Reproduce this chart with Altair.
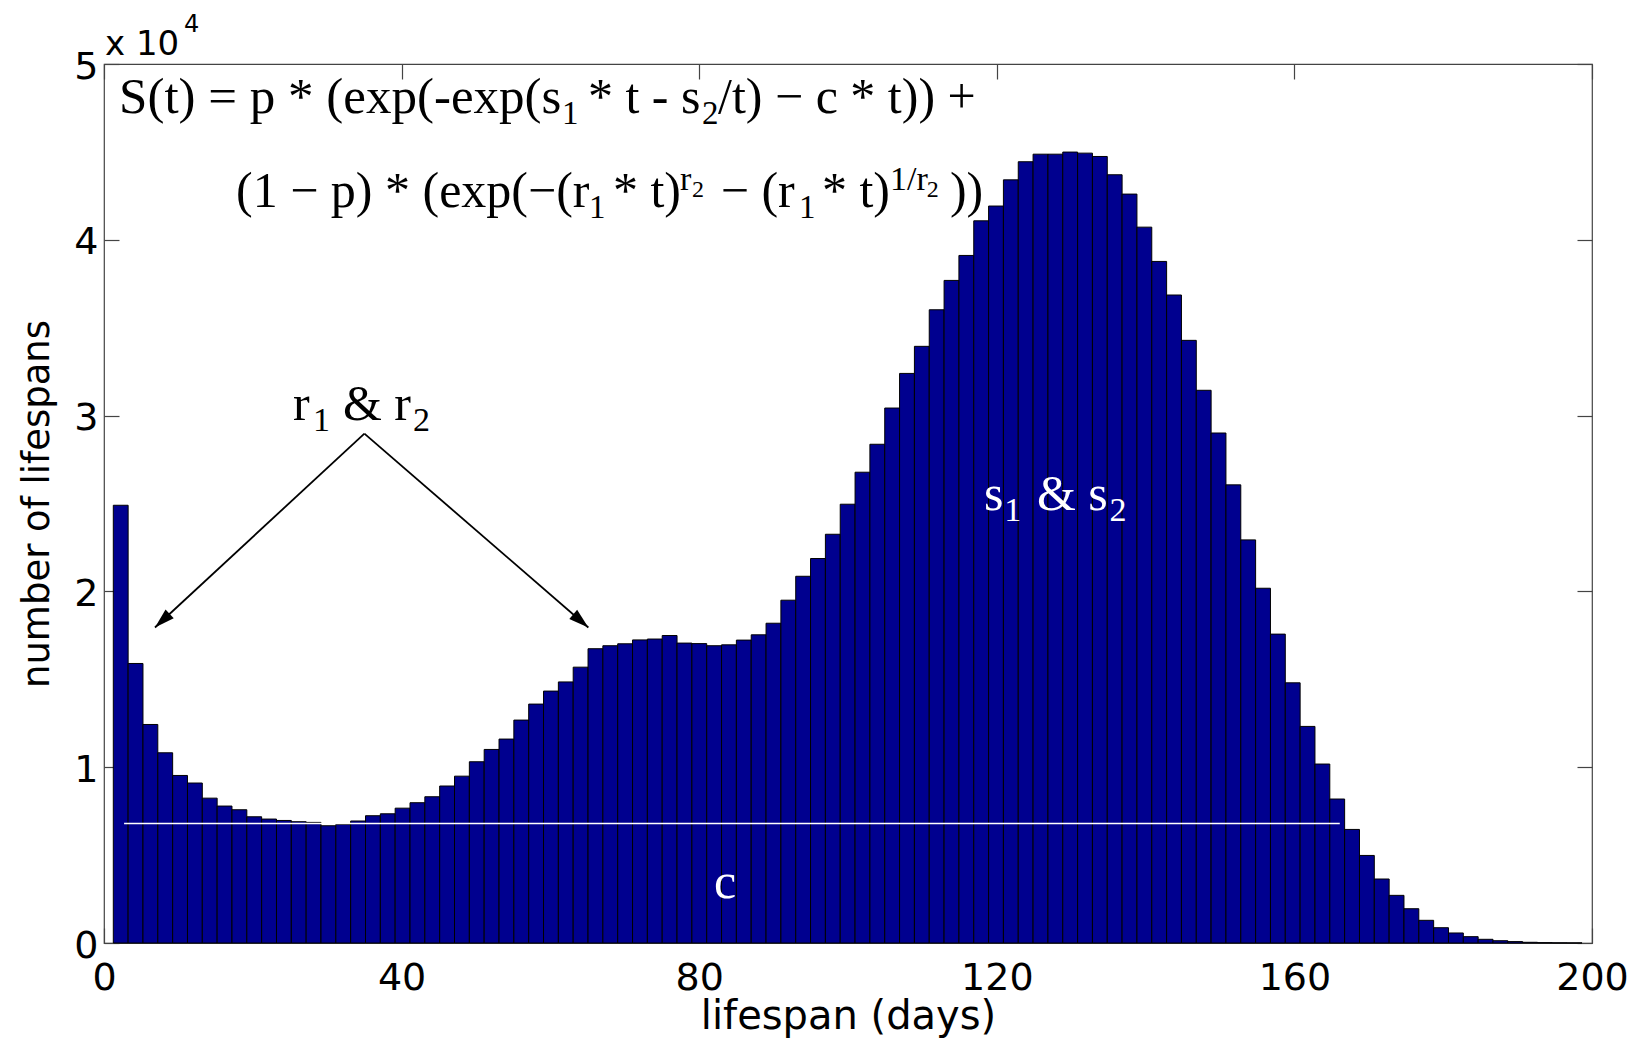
import altair as alt
import pandas as pd

# ---- histogram of lifespans (equal-width bins) ----
bin_start = 1.25   # left edge of the first bin, days
bin_width = 1.994  # bin width, days
counts = [
    24900, 15900, 12430, 10820, 9530, 9100, 8240, 7790, 7580, 7180,
    7050, 6970, 6900, 6860, 6670, 6750, 6940, 7240, 7350, 7670,
    7980, 8320, 8930, 9490, 10310, 11010, 11600, 12680, 13590, 14330,
    14850, 15690, 16740, 16910, 17020, 17240, 17290, 17490, 17060, 17030,
    16910, 16960, 17230, 17530, 18190, 19500, 20860, 21870, 23250, 24960,
    26780, 28370, 30430, 32400, 33940, 36020, 37690, 39110, 41080, 41920,
    43410, 44440, 44870, 44870, 44990, 44930, 44740, 43700, 42600, 40720,
    38770, 36860, 34280, 31440, 29010, 26060, 22930, 20180, 17570, 14800,
    12320, 10180, 8190, 6460, 4980, 3640, 2710, 1950, 1290, 870,
    570, 360, 210, 130, 80, 40, 20, 10, 5,
]

x_ticks = [0, 40, 80, 120, 160, 200]
y_ticks = [0, 10000, 20000, 30000, 40000, 50000]

# background mortality level c (horizontal white line)
c_level = [6800]
c_from = [2.7]
c_to = [166.1]

# arrows from the "r1 & r2" label to the two early modes
arrow_x0 = [35.0, 35.0]
arrow_y0 = [28977, 28977]
arrow_x1 = [6.85, 65.1]
arrow_y1 = [17948, 17948]
arrow_angle = [227.2, 130.9]

# serif annotation pieces: formula (with sub/superscripts) and labels
serif_text = [
    "S(t) = p * (exp(-exp(s", "1", "* t - s", "2", "/t) \u2212 c * t)) +",
    "(1 \u2212 p) * (exp(\u2212(r", "1", "* t)", "r", "2",
    "\u2212 (r", "1", "* t)", "1/r", "2", "))",
    "r", "1", "& r", "2",
    "s", "1", "& s", "2",
    "c",
]
serif_x = [
    2.02, 61.56, 65.05, 80.38, 82.53,
    17.74, 65.19, 68.41, 77.42, 79.03,
    82.9, 93.41, 96.5, 105.65, 110.6, 113.7,
    25.4, 28.1, 32.12, 41.53,
    118.28, 121.0, 125.4, 135.15,
    81.99,
]
serif_y = [
    47186, 46561, 47186, 46561, 47186,
    41842, 41217, 41842, 42808, 42410,
    41842, 41217, 41842, 42808, 42410, 41842,
    29733, 29107, 29733, 29107,
    24616, 23991, 24616, 23991,
    2558,
]
serif_size = [
    51, 33, 50, 33, 50,
    50, 33, 50, 34, 24,
    50, 33, 50, 34, 24, 50,
    50, 34, 50, 34,
    50, 34, 50, 34,
    50,
]
serif_color = ["black"] * 20 + ["white"] * 5

# axis multiplier "x 10^4"
mult_text = ["x 10", "4"]
mult_x = [0.13, 10.75]
mult_y = [50540, 51847]
mult_size = [34, 24]

W, H = 1488, 879
lo = [bin_start + bin_width * i for i in range(len(counts))]
hist = pd.DataFrame({"lo": lo, "hi": [v + bin_width for v in lo], "count": counts})

xs = alt.Scale(domain=[0, 200], nice=False, zero=False)
ys = alt.Scale(domain=[0, 50000], nice=False)
AX = "#444444"


def tick_axis(orient, offset, values):
    # label-free axis used only to draw inward-pointing ticks on a box edge
    return alt.Axis(orient=orient, offset=offset, values=values, tickSize=15,
                    tickColor=AX, tickWidth=1.2, labels=False, domain=False,
                    grid=False, title=None)


bars = alt.Chart(hist).mark_rect(fill="#00008F", stroke="black", strokeWidth=1).encode(
    x=alt.X("lo:Q", scale=xs, axis=alt.Axis(
        orient="bottom", values=x_ticks, tickSize=0, domain=False, grid=False,
        labelFlush=False, labelOverlap=False, labelFont="DejaVu Sans",
        labelFontSize=38, labelColor="black", labelPadding=16,
        title="lifespan (days)", titleFont="DejaVu Sans", titleFontSize=40,
        titleFontWeight="normal", titleColor="black", titleX=W / 2, titleY=85,
        titleAlign="center", titleBaseline="alphabetic")),
    x2="hi:Q",
    y=alt.Y("count:Q", scale=ys, axis=alt.Axis(
        orient="left", values=y_ticks, labelExpr="datum.value / 10000",
        tickSize=0, domain=False, grid=False, labelFont="DejaVu Sans",
        labelFontSize=38, labelColor="black", labelPadding=6, labelOffset=3,
        title="number of lifespans", titleFont="DejaVu Sans", titleFontSize=37,
        titleFontWeight="normal", titleColor="black", titleX=-56, titleY=H / 2,
        titleAlign="center", titleBaseline="alphabetic", titleAngle=270)),
    y2=alt.datum(0),
)

cline = alt.Chart(pd.DataFrame({"x0": c_from, "x1": c_to, "c": c_level})).mark_rule(
    color="white", strokeWidth=1.5).encode(
    x=alt.X("x0:Q", scale=xs, axis=tick_axis("top", -H, x_ticks)),
    x2="x1:Q",
    y=alt.Y("c:Q", scale=ys, axis=tick_axis("right", -W, y_ticks)),
)

arrows = pd.DataFrame({"x0": arrow_x0, "y0": arrow_y0, "x1": arrow_x1,
                       "y1": arrow_y1, "ang": arrow_angle})
arrow_lines = alt.Chart(arrows).mark_rule(color="black", strokeWidth=1.8).encode(
    x=alt.X("x0:Q", scale=xs, axis=tick_axis("bottom", -H, x_ticks)),
    y=alt.Y("y0:Q", scale=ys, axis=tick_axis("left", -W, y_ticks)),
    x2="x1:Q",
    y2="y1:Q",
)
heads = alt.Chart(arrows).mark_point(
    shape="M0,0L-0.3,1L0.3,1Z", filled=True, fill="black", opacity=1,
    size=1600, strokeWidth=0).encode(
    x=alt.X("x1:Q", scale=xs, axis=None),
    y=alt.Y("y1:Q", scale=ys, axis=None),
    angle=alt.Angle("ang:Q", scale=None),
)

serif = pd.DataFrame({"x": serif_x, "y": serif_y, "t": serif_text,
                      "fs": serif_size, "col": serif_color})
serif_layer = alt.Chart(serif).mark_text(
    align="left", baseline="alphabetic", font="Liberation Serif").encode(
    x=alt.X("x:Q", scale=xs, axis=None),
    y=alt.Y("y:Q", scale=ys, axis=None),
    text="t:N",
    size=alt.Size("fs:Q", scale=None, legend=None),
    color=alt.Color("col:N", scale=None, legend=None),
)

mult = pd.DataFrame({"x": mult_x, "y": mult_y, "t": mult_text, "fs": mult_size})
mult_layer = alt.Chart(mult).mark_text(
    align="left", baseline="alphabetic", font="DejaVu Sans", color="black").encode(
    x=alt.X("x:Q", scale=xs, axis=None),
    y=alt.Y("y:Q", scale=ys, axis=None),
    text="t:N",
    size=alt.Size("fs:Q", scale=None, legend=None),
)

chart = alt.layer(
    bars, cline, arrow_lines, heads, serif_layer, mult_layer
).resolve_axis(x="independent", y="independent").properties(
    width=W, height=H,
    autosize=alt.AutoSizeParams(type="none"),
    padding={"left": 104, "top": 64, "right": 50, "bottom": 97},
    background="white",
).configure_view(stroke=AX, strokeWidth=1.2)

chart.save("out.html", embed_options={"renderer": "svg", "actions": False})
